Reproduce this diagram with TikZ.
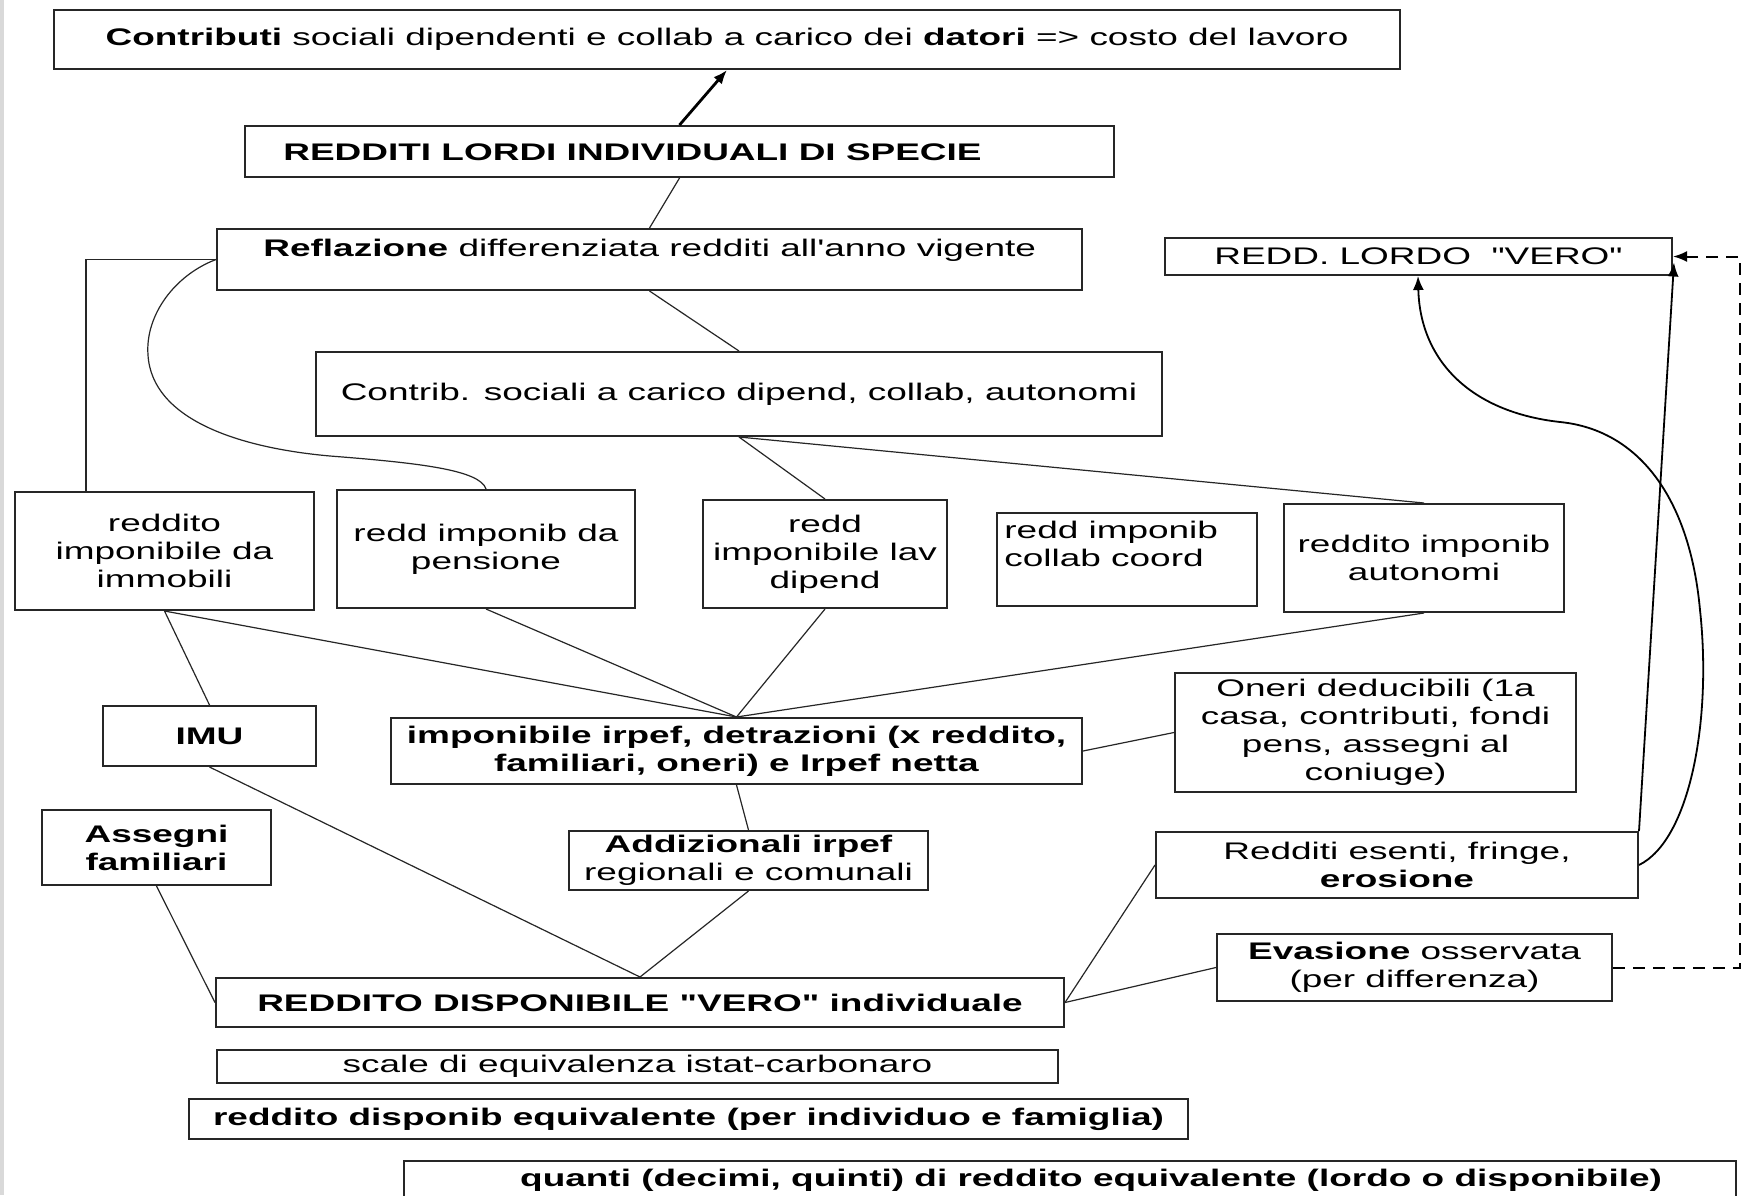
\documentclass[tikz,border=0pt]{standalone}
\usepackage{fontspec}
\setmainfont{Liberation Sans}[FakeStretch=1.54,Ligatures=TeXOff]
\usetikzlibrary{arrows.meta,calc}
\newcommand{\fs}{\fontsize{12}{14}\selectfont}
% box: name, x, y (north west, px), width (pt), height (pt), text
\newcommand{\bx}[6]{%
  \node[box,minimum width=#4pt,minimum height=#5pt] (#1) at (#2,#3) {};
  \node[lbl,align=center] (#1-t) at (#1.center) {#6};}
\begin{document}
\begin{tikzpicture}[x=0.5pt,y=-0.5pt,
  box/.style={draw=black!85,line width=1pt,inner sep=0pt,anchor=north west},
  lbl/.style={inner sep=0pt,font=\fs},
  con/.style={line width=0.6pt,black!85},
  arr/.style={-{Latex[length=7pt,width=5.5pt]},line width=0.9pt,black}]
\clip (0,0) rectangle (1746,1195);
\fill[white] (0,0) rectangle (1746,1195);
\draw[black!15,line width=2pt] (2,0) -- (2,1195);

\bx{ctop}{53}{9}{673}{29.5}{\textbf{Contributi} sociali dipendenti e collab a carico dei \textbf{datori} => costo del lavoro}
\node[box,minimum width=434.5pt,minimum height=25.5pt] (lordi) at (244,125) {};
\node[lbl,anchor=base west] (lordi-t) at (283,160) {\textbf{REDDITI LORDI INDIVIDUALI DI SPECIE}};
\node[box,minimum width=432.5pt,minimum height=30.5pt] (refl) at (216,228) {};
\node[lbl,anchor=base west] (refl-t) at (263,256) {\textbf{Reflazione} differenziata redditi all'anno vigente};
\bx{csoc}{315}{351}{423}{42}{Contrib. sociali a carico dipend, collab, autonomi}
\bx{imm}{14}{491}{149.5}{59}{reddito\\imponibile da\\immobili}
\bx{pens}{336}{489}{149}{59}{redd imponib da\\pensione}
\bx{lav}{702}{499}{122}{54}{redd\\imponibile lav\\dipend}
\node[box,minimum width=130pt,minimum height=46.5pt] (collab) at (996,512) {};
\node[lbl,anchor=north west,align=left] (collab-t) at (1004,521) {redd imponib\\collab coord};
\bx{auton}{1283}{503}{140}{54}{reddito imponib\\autonomi}
\bx{lv}{1164}{237}{253.5}{18.5}{REDD. LORDO \ "VERO"}
\bx{imu}{102}{705}{106.5}{30}{\textbf{IMU}}
\bx{irpef}{390}{717}{345.5}{33}{\textbf{imponibile irpef, detrazioni (x reddito,}\\\textbf{familiari, oneri) e Irpef netta}}
\bx{oneri}{1174}{672}{200.5}{59.5}{Oneri deducibili (1a\\casa, contributi, fondi\\pens, assegni al\\coniuge)}
\bx{addiz}{568}{830}{179.5}{29.5}{\textbf{Addizionali irpef}\\regionali e comunali}
\bx{assegni}{41}{809}{114.5}{37.5}{\textbf{Assegni}\\\textbf{familiari}}
\bx{esenti}{1155}{831}{241}{33}{Redditi esenti, fringe,\\\textbf{erosione}}
\bx{evas}{1216}{933}{197.5}{33.5}{\textbf{Evasione} osservata\\(per differenza)}
\bx{disp}{215}{977}{424}{24.5}{\textbf{REDDITO DISPONIBILE "VERO" individuale}}
\bx{scale}{216}{1049}{420.5}{16.5}{scale di equivalenza istat-carbonaro}
\bx{equiv}{188}{1098}{499.5}{20}{\textbf{reddito disponib equivalente (per individuo e famiglia)}}
\node[box,minimum width=666pt,minimum height=30pt] (quanti) at (403,1160) {};
\node[lbl] (quanti-t) at (1091,1180) {\textbf{quanti (decimi, quinti) di reddito equivalente (lordo o disponibile)}};

% connectors
\draw[arr,line width=1.4pt] (lordi.north) -- (ctop.south);
\draw[con] (refl.north) -- (lordi.south);
\draw[con] (refl.west) -| ($(imm.north west)+(72,0)$);
\draw[con] (refl.west) .. controls (175,275) and (145,315) .. (148,355)
  .. controls (152,420) and (240,448) .. (330,456)
  .. controls (420,463) and (480,470) .. (pens.north);
\draw[con] (refl.south) -- (csoc.north);
\draw[con] (csoc.south) -- (lav.north);
\draw[con] (csoc.south) -- (auton.north);
\draw[con] (imm.south) -- (imu.north);
\foreach \n in {imm,pens,lav,auton} \draw[con] (\n.south) -- (irpef.north);
\draw[con] (irpef.east) -- (oneri.west);
\draw[con] (irpef.south) -- (addiz.north);
\draw[con] (imu.south) -- (disp.north);
\draw[con] (addiz.south) -- (disp.north);
\draw[con] (assegni.south) -- (disp.west);
\draw[con] (esenti.west) -- (disp.east);
\draw[con] (evas.west) -- (disp.east);
\draw[arr] (esenti.north east) -- ($(lv.east)+(1,6)$);
\draw[arr] (esenti.east) .. controls (1690,840) and (1712,720) .. (1700,610)
  .. controls (1690,500) and (1640,430) .. (1560,422)
  .. controls (1470,412) and (1420,360) .. ($(lv.south west)+(254,0)$);
\draw[arr,line width=1pt,dash pattern=on 6pt off 4pt] (evas.east) -- ++(127,0) |- (lv.east);
\end{tikzpicture}
\end{document}
